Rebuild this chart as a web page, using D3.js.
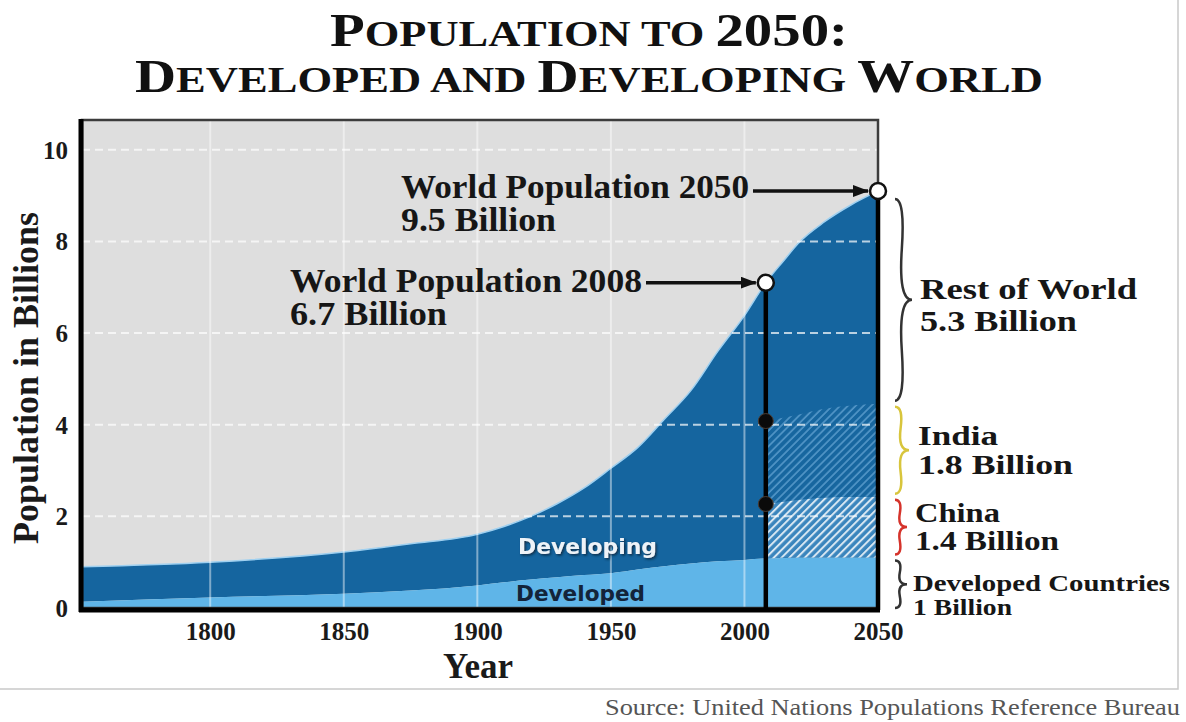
<!DOCTYPE html>
<html>
<head>
<meta charset="utf-8">
<script src="https://cdn.jsdelivr.net/npm/d3@7"></script>
<style>
body { margin: 0; background: #fff; }
svg { display: block; }
</style>
</head>
<body>
<svg id="drawing_region"></svg>
<script>
// values (billions)
const years     = [1750, 1800, 1850, 1875, 1900, 1910, 1920, 1930, 1940, 1950, 1960, 1970, 1980, 1990, 2000, 2008, 2015, 2020, 2030, 2040, 2050];
const developed = [0.13, 0.23, 0.31, 0.38, 0.49, 0.56, 0.62, 0.67, 0.72, 0.76, 0.84, 0.91, 0.97, 1.02, 1.05, 1.08, 1.09, 1.10, 1.10, 1.10, 1.10];
const world     = [0.90, 1.00, 1.22, 1.40, 1.61, 1.78, 2.00, 2.28, 2.62, 3.05, 3.50, 4.12, 4.75, 5.60, 6.38, 7.10, 7.60, 7.95, 8.43, 8.80, 9.10];

const projYears    = [2008, 2020, 2030, 2040, 2050];
const projDevTop   = [1.08, 1.10, 1.10, 1.10, 1.10];
const chinaTop     = [2.27, 2.36, 2.41, 2.43, 2.43];
const indiaTop     = [4.08, 4.22, 4.35, 4.42, 4.46];

const yTicks = [0, 2, 4, 6, 8, 10];
const xTicks = [1800, 1850, 1900, 1950, 2000, 2050];

const regionNames  = ['Rest of World', 'India', 'China', 'Developed Countries'];
const regionTotals = ['5.3 Billion', '1.8 Billion', '1.4 Billion', '1 Billion'];
const regionColors = ['#333', '#d8c53c', '#d5332b', '#333'];

const calloutYears = [2008, 2050];
const calloutTitle = ['World Population 2008', 'World Population 2050'];
const calloutValue = ['6.7 Billion', '9.5 Billion'];

// title pieces: [text, big?]
const titleLine1 = [['P', 1], ['OPULATION TO ', 0], ['2050:', 1]];
const titleLine2 = [['D', 1], ['EVELOPED AND ', 0], ['D', 1], ['EVELOPING ', 0], ['W', 1], ['ORLD', 0]];

const W = 1186, H = 722;
const plot = { left: 82, right: 878, top: 120, bottom: 608 };
const SERIF = '"Liberation Serif", "Times New Roman", serif';
const SANS = '"DejaVu Sans", Verdana, sans-serif';

const svg = d3.select('#drawing_region').attr('width', W).attr('height', H);
const defs = svg.append('defs');

const xscale = d3.scaleLinear().domain([1752, 2050]).range([plot.left, plot.right]);
const yscale = d3.scaleLinear().domain([0, 10.65]).range([plot.bottom, plot.top]);

// one line of bold serif text squeezed/stretched to a width
function label(x, y, size, width, str) {
    return svg.append('text')
        .attr('x', x).attr('y', y)
        .attr('textLength', width).attr('lengthAdjust', 'spacingAndGlyphs')
        .style('font-family', SERIF).style('font-weight', 'bold')
        .style('font-size', size + 'px').attr('fill', '#161616')
        .text(str);
}

// outer box
svg.append('rect')
    .attr('x', -2).attr('y', -2).attr('width', 1180).attr('height', 691)
    .attr('fill', 'none').attr('stroke', '#c9c9c9').attr('stroke-width', 1.5);

// title (one text, two lines, hand-made small caps)
const title = svg.append('text')
    .attr('text-anchor', 'middle')
    .style('font-family', SERIF).style('font-weight', 'bold').attr('fill', '#111');
[[titleLine1, 45.5, 518], [titleLine2, 91.5, 908]].forEach(([parts, y, len]) => {
    const line = title.append('tspan').attr('x', 589).attr('y', y)
        .attr('textLength', len).attr('lengthAdjust', 'spacingAndGlyphs');
    parts.forEach(p => {
        line.append('tspan').style('font-size', p[1] ? '46px' : '36px').text(p[0]);
    });
});

// clip + patterns
defs.append('clipPath').attr('id', 'plotclip').append('rect')
    .attr('x', plot.left).attr('y', plot.top)
    .attr('width', plot.right - plot.left).attr('height', plot.bottom - plot.top);

function hatch(id, base, line, width, opacity) {
    const p = defs.append('pattern').attr('id', id)
        .attr('patternUnits', 'userSpaceOnUse').attr('width', 5.5).attr('height', 5.5)
        .attr('patternTransform', 'rotate(45)');
    p.append('rect').attr('width', 5.5).attr('height', 5.5).attr('fill', base);
    p.append('line').attr('x1', 1).attr('y1', 0).attr('x2', 1).attr('y2', 5.5)
        .attr('stroke', line).attr('stroke-width', width).attr('stroke-opacity', opacity);
}
hatch('hatchChina', '#3a85bd', '#ffffff', 2, 0.8);
hatch('hatchIndia', '#17669f', '#6aa8d6', 1.6, 0.75);

const shadow = defs.append('filter').attr('id', 'shadow')
    .attr('x', '-10%').attr('y', '-30%').attr('width', '130%').attr('height', '160%');
shadow.append('feDropShadow').attr('dx', 1.5).attr('dy', 1.5)
    .attr('stdDeviation', 1).attr('flood-color', '#0b2740').attr('flood-opacity', 0.9);

defs.append('marker').attr('id', 'arrow')
    .attr('markerUnits', 'userSpaceOnUse')
    .attr('markerWidth', 16).attr('markerHeight', 12)
    .attr('refX', 15).attr('refY', 6).attr('orient', 'auto')
    .append('path').attr('d', 'M0,0 L16,6 L0,12 Z').attr('fill', '#111');

const chart = svg.append('g');
chart.append('rect')
    .attr('x', plot.left).attr('y', plot.top)
    .attr('width', plot.right - plot.left).attr('height', plot.bottom - plot.top)
    .attr('fill', '#dedede');

const areas = chart.append('g').attr('clip-path', 'url(#plotclip)');
const idx = years.map((d, i) => i);

const developingArea = d3.area()
    .x(i => xscale(years[i])).y0(i => yscale(developed[i])).y1(i => yscale(world[i]))
    .curve(d3.curveMonotoneX);
const developedArea = d3.area()
    .x(i => xscale(years[i])).y0(yscale(0)).y1(i => yscale(developed[i]))
    .curve(d3.curveMonotoneX);
const worldLine = d3.line()
    .x(i => xscale(years[i])).y(i => yscale(world[i]))
    .curve(d3.curveMonotoneX);

areas.append('path').attr('d', developingArea(idx)).attr('fill', '#15659f');
areas.append('path').attr('d', developedArea(idx)).attr('fill', '#5fb5e8');
areas.append('path').attr('d', worldLine(idx)).attr('fill', 'none')
    .attr('stroke', '#9fd0f0').attr('stroke-width', 1.5);

const pidx = projYears.map((d, i) => i);
const chinaArea = d3.area()
    .x(i => xscale(projYears[i])).y0(i => yscale(projDevTop[i])).y1(i => yscale(chinaTop[i]))
    .curve(d3.curveMonotoneX);
const indiaArea = d3.area()
    .x(i => xscale(projYears[i])).y0(i => yscale(chinaTop[i])).y1(i => yscale(indiaTop[i]))
    .curve(d3.curveMonotoneX);
areas.append('path').attr('d', chinaArea(pidx)).attr('fill', 'url(#hatchChina)');
areas.append('path').attr('d', indiaArea(pidx)).attr('fill', 'url(#hatchIndia)');

// grid
chart.append('g').selectAll('line')
    .data(xTicks.filter(d => d < 2050))
    .join('line')
    .attr('x1', d => xscale(d)).attr('x2', d => xscale(d))
    .attr('y1', plot.top).attr('y2', plot.bottom)
    .attr('stroke', '#fff').attr('stroke-width', 2).attr('stroke-opacity', 0.45);
chart.append('g').selectAll('line')
    .data(yTicks.filter(d => d > 0))
    .join('line')
    .attr('x1', plot.left).attr('x2', plot.right)
    .attr('y1', d => yscale(d)).attr('y2', d => yscale(d))
    .attr('stroke', '#fff').attr('stroke-width', 2).attr('stroke-opacity', 0.7)
    .attr('stroke-dasharray', '8,5');

// frame
chart.append('rect')
    .attr('x', plot.left).attr('y', plot.top)
    .attr('width', plot.right - plot.left).attr('height', plot.bottom - plot.top)
    .attr('fill', 'none').attr('stroke', '#3c3c3c').attr('stroke-width', 2.5);

// axes
const yaxis = d3.axisLeft(yscale).tickValues(yTicks).tickSize(0).tickPadding(14);
const xaxis = d3.axisBottom(xscale).tickValues(xTicks).tickSize(0).tickPadding(14).tickFormat(d3.format('d'));

const yaxis_group = chart.append('g').attr('transform', `translate(${plot.left},0)`).call(yaxis);
const xaxis_group = chart.append('g').attr('transform', `translate(0,${plot.bottom})`).call(xaxis);
[yaxis_group, xaxis_group].forEach(g => {
    g.select('.domain').remove();
    g.selectAll('text')
        .style('font-family', SERIF).style('font-weight', 'bold')
        .style('font-size', '25px').attr('fill', '#1a1a1a');
});
yaxis_group.selectAll('text').attr('dy', '0.34em');

chart.append('line')
    .attr('x1', plot.left - 1).attr('x2', plot.left - 1)
    .attr('y1', plot.top - 1).attr('y2', plot.bottom + 4)
    .attr('stroke', '#000').attr('stroke-width', 5);
chart.append('line')
    .attr('x1', plot.left - 3).attr('x2', plot.right + 2)
    .attr('y1', plot.bottom + 2).attr('y2', plot.bottom + 2)
    .attr('stroke', '#000').attr('stroke-width', 5);

// axis titles
svg.append('text')
    .attr('transform', `translate(38, 378) rotate(-90)`)
    .attr('text-anchor', 'middle')
    .style('font-family', SERIF).style('font-weight', 'bold').style('font-size', '36px')
    .attr('fill', '#1a1a1a')
    .text('Population in Billions');
svg.append('text')
    .attr('x', 478).attr('y', 678).attr('text-anchor', 'middle')
    .style('font-family', SERIF).style('font-weight', 'bold').style('font-size', '35px')
    .attr('fill', '#1a1a1a')
    .text('Year');

// stack labels
svg.append('text')
    .attr('x', 518).attr('y', 554)
    .attr('textLength', 139).attr('lengthAdjust', 'spacingAndGlyphs')
    .style('font-family', SANS).style('font-weight', 'bold').style('font-size', '21px')
    .attr('fill', '#eef3f8').attr('filter', 'url(#shadow)')
    .text('Developing');
svg.append('text')
    .attr('x', 516).attr('y', 601)
    .attr('textLength', 129).attr('lengthAdjust', 'spacingAndGlyphs')
    .style('font-family', SANS).style('font-weight', 'bold').style('font-size', '21px')
    .attr('fill', '#13243a')
    .text('Developed');

// vertical markers at 2008 and 2050
calloutYears.forEach(yr => {
    const i = years.indexOf(yr);
    chart.append('line')
        .attr('x1', xscale(yr)).attr('x2', xscale(yr))
        .attr('y1', yscale(world[i])).attr('y2', plot.bottom + 2)
        .attr('stroke', '#000').attr('stroke-width', 4.5);
});

// 2008 dots at China and India tops
chart.selectAll('circle.dot')
    .data([indiaTop[0], chinaTop[0]])
    .join('circle')
    .attr('class', 'dot')
    .attr('cx', xscale(2008)).attr('cy', d => yscale(d)).attr('r', 7.5)
    .attr('fill', '#0a0a0a').attr('stroke', '#4a3a30').attr('stroke-width', 1);

// callouts
const callPos    = [[290, 292], [401, 198]];
const callWidths = [[352, 157], [348, 155]];
calloutYears.forEach((yr, k) => {
    const i = years.indexOf(yr);
    const cx = xscale(yr), cy = yscale(world[i]);
    const [tx, ty] = callPos[k];
    label(tx, ty, 33, callWidths[k][0], calloutTitle[k]);
    label(tx, ty + 33, 33, callWidths[k][1], calloutValue[k]);
    svg.append('line')
        .attr('x1', tx + callWidths[k][0] + 4).attr('x2', cx - 10)
        .attr('y1', cy).attr('y2', cy)
        .attr('stroke', '#111').attr('stroke-width', 3.5)
        .attr('marker-end', 'url(#arrow)');
    svg.append('circle')
        .attr('cx', cx).attr('cy', cy).attr('r', 8)
        .attr('fill', '#fff').attr('stroke', '#111').attr('stroke-width', 2.5);
});

// braces on the right (stack at 2050)
const last = years.length - 1;
const spans = [
    [world[last], indiaTop[indiaTop.length - 1]],
    [indiaTop[indiaTop.length - 1], chinaTop[chinaTop.length - 1]],
    [chinaTop[chinaTop.length - 1], projDevTop[projDevTop.length - 1]],
    [projDevTop[projDevTop.length - 1], 0]
];
const braceDepth = [17, 14, 12, 12];
const labelX     = [920, 918, 915, 913];
const labelSize  = [30, 28, 27, 23];
const labelShift = [-1, -5, -5, 7];
const labelGap   = [32, 29, 28, 24];
const nameWidth  = [217, 80, 85, 257];
const totalWidth = [157, 155, 144, 99];

function bracePath(x, yTop, yBot, w) {
    const len = yBot - yTop, q = 0.6;
    const tx = x + w, ty = yTop + len / 2;
    return `M${x},${yBot} Q${x + q * w},${yBot} ${x + (1 - q) * w},${yBot - 0.25 * len} T${tx},${ty}` +
           ` M${x},${yTop} Q${x + q * w},${yTop} ${x + (1 - q) * w},${yTop + 0.25 * len} T${tx},${ty}`;
}

spans.forEach((s, k) => {
    const yTop = yscale(s[0]) + (k === 0 ? 8 : 3);
    const yBot = yscale(s[1]) - (k === 3 ? 0 : 3);
    svg.append('path')
        .attr('d', bracePath(895, yTop, yBot, braceDepth[k]))
        .attr('fill', 'none').attr('stroke', regionColors[k]).attr('stroke-width', 2.5);
    const y1 = (yTop + yBot) / 2 + labelShift[k];
    label(labelX[k], y1, labelSize[k], nameWidth[k], regionNames[k]);
    label(labelX[k], y1 + labelGap[k], labelSize[k], totalWidth[k], regionTotals[k]);
});

// source
svg.append('text')
    .attr('x', 605).attr('y', 715)
    .attr('textLength', 575).attr('lengthAdjust', 'spacingAndGlyphs')
    .style('font-family', SERIF).style('font-size', '24px')
    .attr('fill', '#555')
    .text('Source: United Nations Populations Reference Bureau');
</script>
</body>
</html>
